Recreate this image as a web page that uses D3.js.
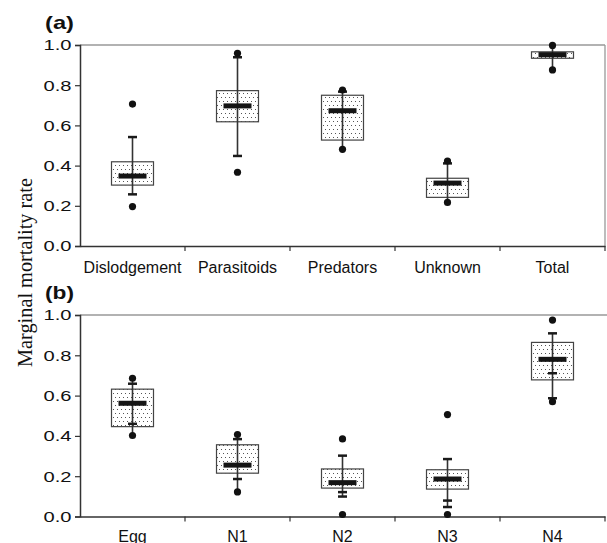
<!DOCTYPE html>
<html><head><meta charset="utf-8">
<script src="https://cdn.jsdelivr.net/npm/d3@7"></script>
<style>body{margin:0;background:#fff}svg{display:block}</style>
</head><body>
<svg id="c" width="607" height="543"></svg>
<script>
// Panel (a): mortality factors
const catsA = ["Dislodgement", "Parasitoids", "Predators", "Unknown", "Total"];
const q1A   = [0.303, 0.618, 0.527, 0.242, 0.934];
const medA  = [0.348, 0.697, 0.673, 0.313, 0.952];
const q3A   = [0.419, 0.773, 0.750, 0.337, 0.966];
const lineLoA = [0.257, 0.448, 0.481, 0.217, 0.876];
const lineHiA = [0.542, 0.959, 0.776, 0.423, 0.998];
const capsA = [[0.542, 0.257], [0.939, 0.448], [0.768], [0.411], []];
const outA  = [[0.706, 0.196], [0.959, 0.367], [0.776, 0.481], [0.423, 0.217], [0.998, 0.876]];

// Panel (b): life stages
const catsB = ["Egg", "N1", "N2", "N3", "N4"];
const q1B   = [0.446, 0.215, 0.141, 0.136, 0.678];
const medB  = [0.562, 0.255, 0.168, 0.186, 0.780];
const q3B   = [0.632, 0.356, 0.236, 0.232, 0.864];
const lineLoB = [0.402, 0.122, 0.099, 0.047, 0.570];
const lineHiB = [0.686, 0.407, 0.302, 0.285, 0.909];
const capsB = [[0.659, 0.460], [0.384, 0.186], [0.302, 0.121, 0.099], [0.285, 0.079, 0.047], [0.909, 0.711, 0.587]];
const outB  = [[0.686, 0.402], [0.407, 0.122], [0.385, 0.010], [0.506, 0.010], [0.975, 0.570]];

const yTicks = [0, 0.2, 0.4, 0.6, 0.8, 1.0];

const svg = d3.select("#c");
const defs = svg.append("defs");
const pat = defs.append("pattern").attr("id","dots").attr("patternUnits","userSpaceOnUse")
  .attr("width",4).attr("height",8);
pat.append("rect").attr("width",4).attr("height",8).attr("fill","#fff");
pat.append("rect").attr("x",1).attr("y",1).attr("width",1).attr("height",1).attr("fill","#555");
pat.append("rect").attr("x",3).attr("y",5).attr("width",1).attr("height",1).attr("fill","#555");

function panel(cats, q1, med, q3, lo, hi, caps, outs, yRange, label, labelY, catLabelY, rightBorder, topEnd) {
  const x = d3.scaleBand().domain(cats).range([80, 605]);
  const y = d3.scaleLinear().domain([0, 1]).range(yRange);
  const g = svg.append("g");

  // frame
  g.append("line").attr("x1",80).attr("x2",topEnd).attr("y1",y(1)).attr("y2",y(1))
    .attr("stroke","#999").attr("stroke-width",1.3);
  if (rightBorder) g.append("line").attr("x1",605).attr("x2",605).attr("y1",y(1)).attr("y2",y(0))
    .attr("stroke","#999").attr("stroke-width",1.3);

  // y axis
  const ya = g.append("g").attr("transform","translate(80,0)")
    .call(d3.axisLeft(y).tickValues(yTicks).tickFormat(d3.format(".1f")).tickSize(5).tickPadding(4));
  ya.select(".domain").attr("stroke","#333").attr("stroke-width",1.5);
  ya.selectAll(".tick line").attr("stroke","#333").attr("stroke-width",1.2);
  ya.selectAll(".tick text").attr("font-family","'Liberation Sans', Arial, sans-serif")
    .attr("font-size",15.5).attr("fill","#111").attr("x",-8.5)
    .attr("textLength",28).attr("lengthAdjust","spacingAndGlyphs");

  // x axis
  const xa = g.append("g").attr("transform",`translate(0,${y(0)})`)
    .call(d3.axisBottom(x).tickSize(0).tickPadding(0));
  xa.select(".domain").attr("stroke","#333").attr("stroke-width",1.5);
  xa.selectAll(".tick text").attr("font-family","'Liberation Sans', Arial, sans-serif")
    .attr("font-size",16).attr("fill","#111").attr("dy",null).attr("y", catLabelY - y(0));
  g.selectAll("line.bt").data(cats).enter().append("line").attr("class","bt")
    .attr("x1",d=>x(d)+x.bandwidth()).attr("x2",d=>x(d)+x.bandwidth())
    .attr("y1",y(0)).attr("y2",y(0)+5).attr("stroke","#333").attr("stroke-width",1.2);

  const bw = 42, mw = 28, cw = 9;
  const idx = d3.range(cats.length);
  const cx = i => x(cats[i]) + x.bandwidth()/2;

  g.selectAll("rect.box").data(idx).enter().append("rect")
    .attr("x",i=>cx(i)-bw/2).attr("y",i=>y(q3[i])).attr("width",bw)
    .attr("height",i=>Math.max(1,y(q1[i])-y(q3[i])))
    .attr("fill","url(#dots)").attr("stroke","#444").attr("stroke-width",1.2);
  g.selectAll("line.wh").data(idx).enter().append("line")
    .attr("x1",cx).attr("x2",cx).attr("y1",i=>y(lo[i])).attr("y2",i=>y(hi[i]))
    .attr("stroke","#333").attr("stroke-width",1.6);
  g.selectAll("rect.med").data(idx).enter().append("rect")
    .attr("x",i=>cx(i)-mw/2).attr("y",i=>y(med[i])-2.5).attr("width",mw).attr("height",5)
    .attr("fill","#151515");
  idx.forEach(i => {
    g.selectAll(null).data(caps[i]).enter().append("line")
      .attr("x1",cx(i)-cw/2).attr("x2",cx(i)+cw/2).attr("y1",d=>y(d)).attr("y2",d=>y(d))
      .attr("stroke","#1a1a1a").attr("stroke-width",2.5);
    g.selectAll(null).data(outs[i]).enter().append("circle")
      .attr("cx",cx(i)).attr("cy",d=>y(d)).attr("r",3.6).attr("fill","#111");
  });

  g.append("text").attr("x",45).attr("y",labelY).text(label)
    .attr("font-family","'Liberation Sans', Arial, sans-serif").attr("font-weight","bold")
    .attr("font-size",19).attr("fill","#111")
    .attr("textLength",29).attr("lengthAdjust","spacingAndGlyphs");
}

panel(catsA, q1A, medA, q3A, lineLoA, lineHiA, capsA, outA, [246, 45], "(a)", 29, 272.5, true, 605);
panel(catsB, q1B, medB, q3B, lineLoB, lineHiB, capsB, outB, [516.5, 315], "(b)", 299, 541.5, false, 607);

svg.append("text").attr("transform","translate(32,272.5) rotate(-90)")
  .attr("text-anchor","middle").text("Marginal mortality rate")
  .attr("font-family","'Liberation Serif', 'Times New Roman', serif").attr("font-size",21)
  .attr("fill","#111").attr("textLength",189).attr("lengthAdjust","spacingAndGlyphs");
</script>
</body></html>
